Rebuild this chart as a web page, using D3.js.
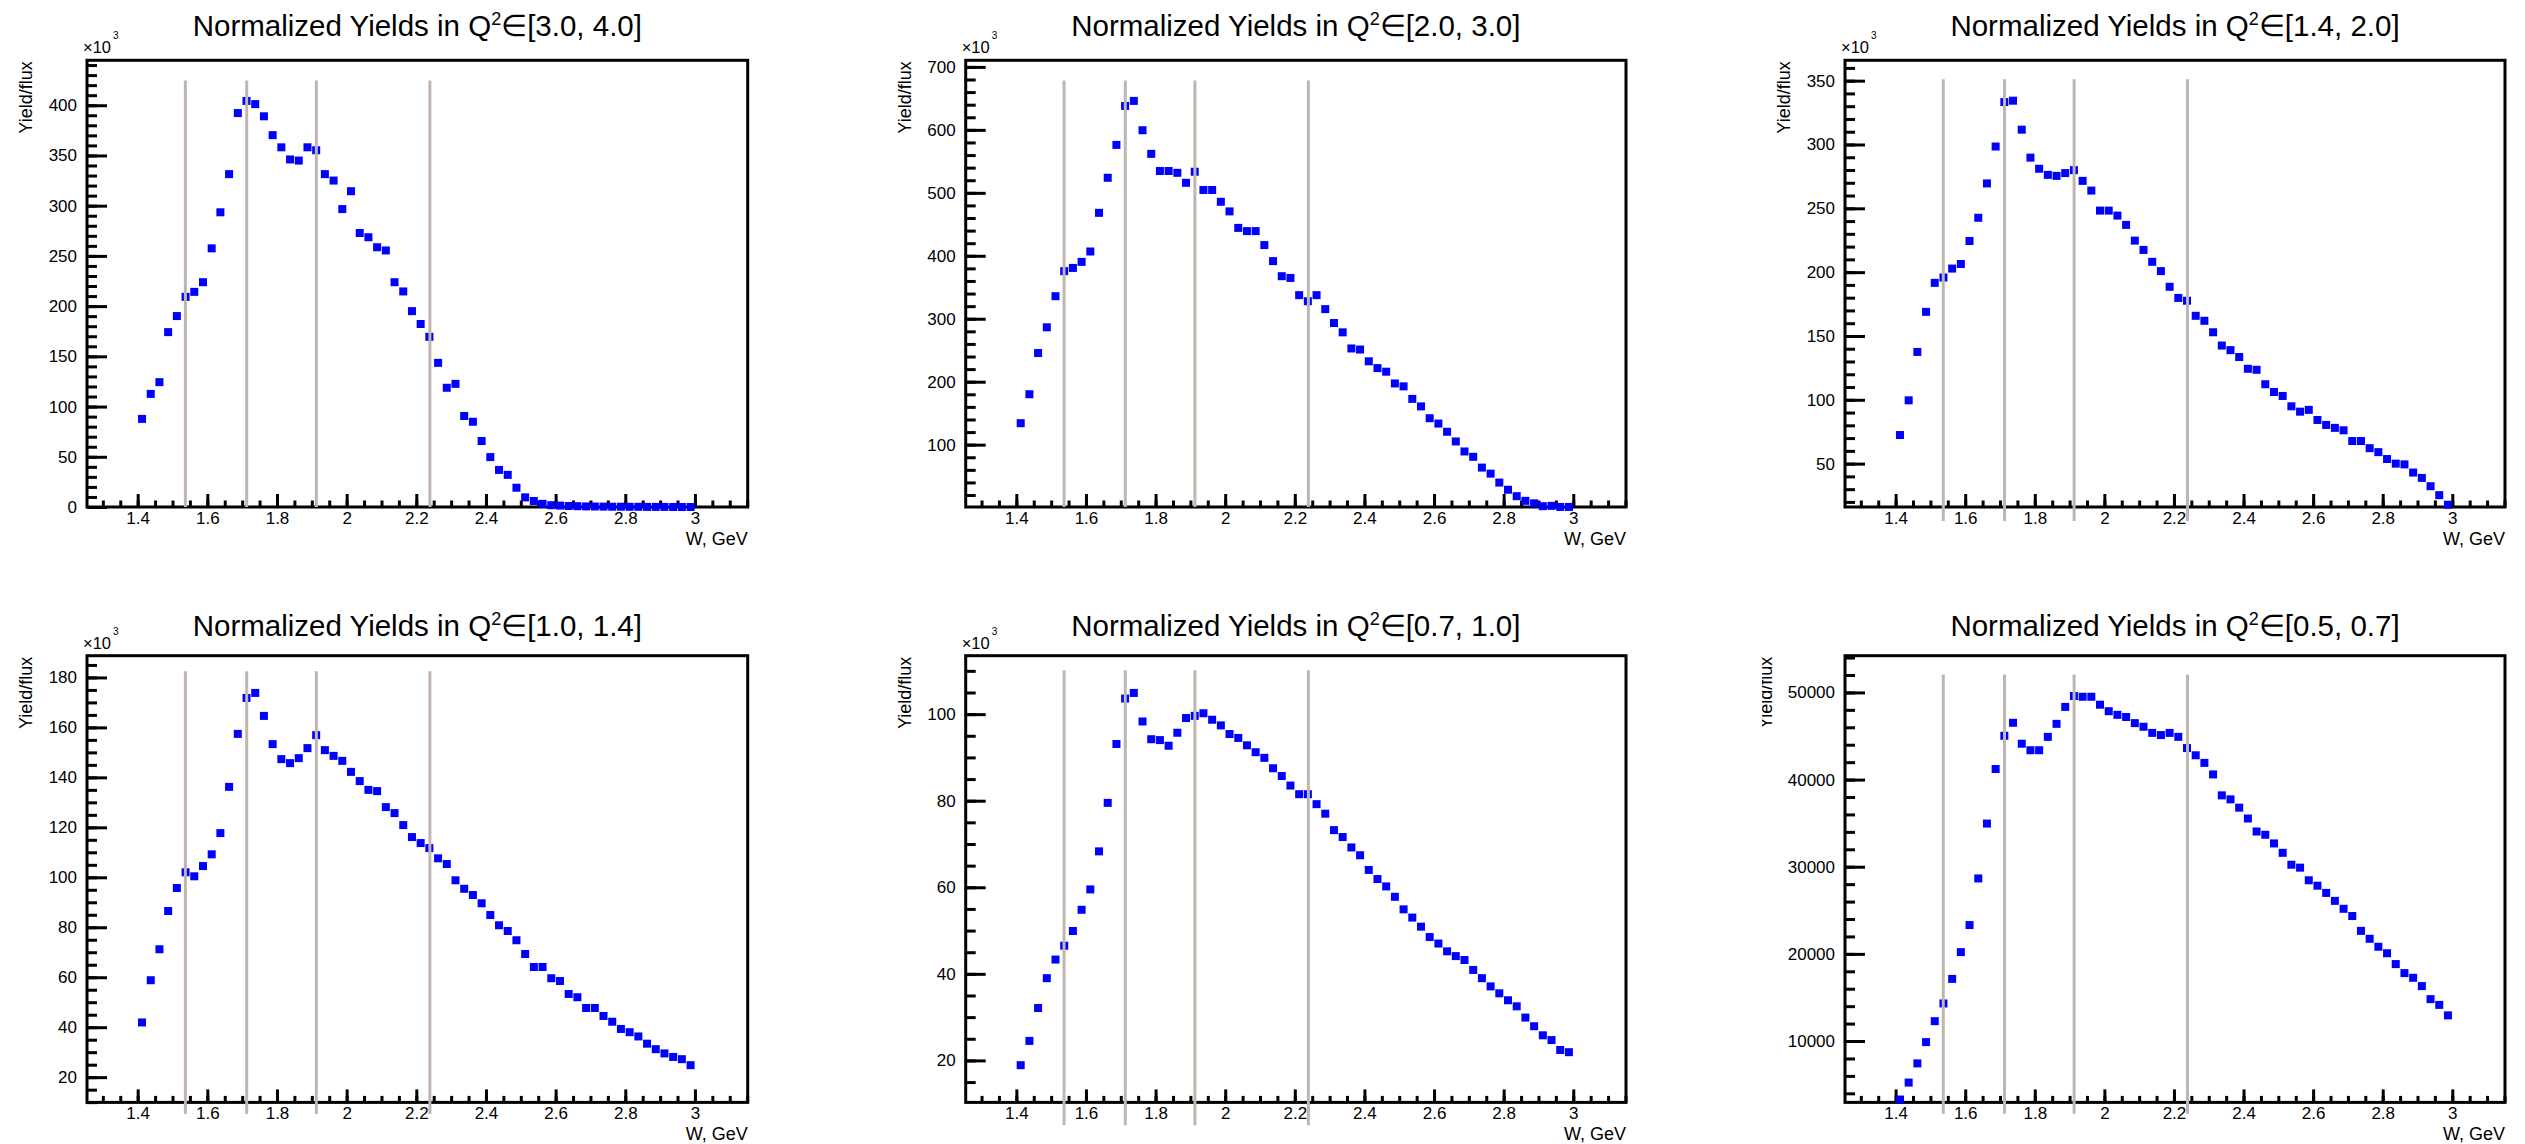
<!DOCTYPE html>
<html><head><meta charset="utf-8">
<script src="https://cdn.jsdelivr.net/npm/d3@7"></script>
<style>
body{margin:0;background:#fff}
svg{display:block}
</style>
</head><body>
<svg id="c" width="2525" height="1144"></svg>
<script>
// ---------------- DATA ----------------
// W bin centres (GeV)
const W_GEV = [1.4125,1.4375,1.4625,1.4875,1.5125,1.5375,1.5625,1.5875,1.6125,1.6375,
  1.6625,1.6875,1.7125,1.7375,1.7625,1.7875,1.8125,1.8375,1.8625,1.8875,
  1.9125,1.9375,1.9625,1.9875,2.0125,2.0375,2.0625,2.0875,2.1125,2.1375,
  2.1625,2.1875,2.2125,2.2375,2.2625,2.2875,2.3125,2.3375,2.3625,2.3875,
  2.4125,2.4375,2.4625,2.4875,2.5125,2.5375,2.5625,2.5875,2.6125,2.6375,
  2.6625,2.6875,2.7125,2.7375,2.7625,2.7875,2.8125,2.8375,2.8625,2.8875,
  2.9125,2.9375,2.9625,2.9875];

// Q2 bin labels (title ranges)
const Q2_RANGES = ["[3.0, 4.0]","[2.0, 3.0]","[1.4, 2.0]","[1.0, 1.4]","[0.7, 1.0]","[0.5, 0.7]"];

// Yield/flux, in axis units (x10^3 for the first five, plain for the last)
const yieldQ2_30_40 = [87.7,112.6,124.3,174.1,190.1,209.2,214.2,223.8,257.5,293.4,
  331.4,392.2,404.3,401.1,389.0,370.2,358.1,346.0,344.9,358.1,
  355.2,331.4,325.0,296.6,314.4,272.8,268.6,258.6,255.4,223.8,
  214.6,195.0,182.2,169.4,143.5,118.7,122.6,90.6,84.9,65.7,
  49.7,36.9,32.0,19.2,9.6,6.0,3.2,1.8,1.4,1.0,
  0.8,0.6,0.5,0.4,0.3,0.3,0.2,0.2,0.1,0.1,
  0.1,0,0,0];
const yieldQ2_20_30 = [134.1,180.1,245.5,286.4,335.8,375.6,380.7,390.3,406.8,468.2,
  523.9,576.1,638.0,646.0,599.4,561.9,534.7,534.7,531.8,515.9,
  533.5,504.5,504.5,485.8,470.5,444.3,439.2,439.2,417.0,391.5,
  367.6,364.8,337.5,327.8,337.5,315.3,293.2,278.4,252.8,251.1,
  232.4,221.6,215.9,197.2,192.6,172.7,160.8,142.0,133.5,120.5,
  105.1,89.2,80.7,63.6,54.0,39.8,28.4,18.2,10.8,6.8,
  2.3,2.8,1.1,1.1];
const yieldQ2_14_20 = [72.4,99.6,137.5,168.9,191.6,195.8,202.8,206.4,224.4,242.6,
  269.5,298.4,333.2,334.3,311.6,289.7,281.0,276.2,275.4,277.6,
  279.9,271.5,263.9,248.2,248.2,244.3,237.0,224.7,217.4,208.1,
  200.8,188.5,179.8,177.6,165.8,161.9,152.9,142.5,138.9,133.5,
  124.3,123.5,112.2,106.1,103.0,94.9,90.7,92.1,84.2,80.3,
  78.0,76.1,67.7,67.7,62.1,59.0,53.6,50.0,49.4,43.0,
  38.8,32.3,25.3,17.8];
const yieldQ2_10_14 = [41.9,58.8,71.2,86.5,95.7,102.0,100.4,104.5,109.2,117.7,
  136.2,157.4,171.8,173.8,164.6,153.3,147.3,145.7,147.7,151.7,
  156.9,150.9,148.6,146.6,142.2,138.5,135.0,134.5,128.1,125.7,
  120.9,116.1,113.7,111.7,107.6,105.3,98.8,95.4,92.9,89.6,
  84.9,80.8,78.5,74.8,69.3,64.1,64.1,59.6,58.5,53.3,
  52.0,47.7,47.7,44.5,42.2,39.3,38.0,36.3,33.4,31.2,
  29.5,28.1,27.2,24.8];
const yieldQ2_07_10 = [18.9,24.5,32.1,39.0,43.3,46.5,49.9,54.8,59.5,68.3,
  79.5,93.1,103.6,104.9,98.3,94.2,94.0,92.7,95.7,99.1,
  99.6,100.2,98.7,97.4,95.4,94.5,92.8,91.2,89.9,87.5,
  85.7,83.5,81.5,81.5,79.2,77.0,73.2,71.6,69.2,67.4,
  64.0,61.9,60.2,57.8,54.9,53.0,50.9,48.5,47.0,45.2,
  44.1,43.2,40.9,39.0,37.1,35.5,33.9,32.5,29.9,27.9,
  25.8,24.7,22.4,21.9];
const yieldQ2_05_07 = [3285,5233,7430,9876,12280,14311,17130,20197,23306,28653,
  34953,41212,45026,46518,44114,43368,43368,44902,46394,48342,
  49585,49503,49503,48591,47845,47430,47181,46477,46062,45358,
  45109,45358,44902,43617,42788,41917,40591,38187,37731,36777,
  35534,34041,33668,32674,31596,30228,29896,28446,27824,26995,
  26083,25171,24342,22642,21731,20819,20073,18829,17793,17254,
  16301,14808,14145,12943];

// resonance-region marker lines (W, GeV)
const W_LINES = [1.537, 1.713, 1.913, 2.239];
// lower end of the marker lines, axis units per panel
const LINE_LOW = [0, 1, 5, 5.3, 5, 1650];

// axis tick settings (axis units)
const Y_MAJOR = [50, 100, 50, 20, 20, 10000];
const Y_MINOR = [10, 20, 10, 5, 5, 2000];
const Y_EXP   = [3, 3, 3, 3, 3, 0];
const X_MAJOR = 0.2, X_MINOR = 0.05;
const X_DOMAIN = [1.2545, 3.1515];

const SERIES = [yieldQ2_30_40, yieldQ2_20_30, yieldQ2_14_20, yieldQ2_10_14, yieldQ2_07_10, yieldQ2_05_07];

// ---------------- LAYOUT ----------------
const COLS = [[87, 747.7], [965.7, 1626], [1845, 2505]];
const ROWS = [[60.3, 507], [655.7, 1102.4]];
const TITLE_BASE = [36, 636];
const YTITLE_GAP = [55, 55, 55, 55, 55, 73];
const FONT = "'Liberation Sans', Arial, Helvetica, sans-serif";
const BLUE = "#0000ff", LINE_COL = "#bfb7af";

const svg = d3.select("#c");
svg.append("rect").attr("width", 2525).attr("height", 1144).attr("fill", "#fff");

const defs = svg.append("defs");
defs.append("clipPath").attr("id", "clip6").attr("clipPathUnits", "userSpaceOnUse").append("rect")
  .attr("x", 1762).attr("y", 572).attr("width", 800).attr("height", 600);

const fmt = d3.format("~g");

SERIES.forEach((vals, k) => {
  const [x0, x1] = COLS[k % 3];
  const [y0, y1] = ROWS[Math.floor(k / 3)];
  const mn = d3.min(vals), mx = d3.max(vals), dy = 0.1 * (mx - mn);
  let lo = mn - dy; if (lo < 0 && mn >= 0) lo = 0.9 * mn;
  const hi = mx + dy;

  const x = d3.scaleLinear().domain(X_DOMAIN).range([x0, x1]);
  const y = d3.scaleLinear().domain([lo, hi]).range([y1, y0]);
  const g = svg.append("g");

  // frame
  g.append("rect").attr("x", x0).attr("y", y0).attr("width", x1 - x0).attr("height", y1 - y0)
    .attr("fill", "none").attr("stroke", "#000").attr("stroke-width", 3);

  // ticks
  const yStep = Y_MAJOR[k], yMinor = Y_MINOR[k];
  const yMaj = d3.range(Math.ceil(lo / yStep - 1e-9), Math.floor(hi / yStep + 1e-9) + 1).map(i => i * yStep);
  const yMin = d3.range(Math.ceil(lo / yMinor - 1e-9), Math.floor(hi / yMinor + 1e-9) + 1).map(i => i * yMinor);
  const xMaj = d3.range(Math.ceil(X_DOMAIN[0] / X_MAJOR - 1e-9), Math.floor(X_DOMAIN[1] / X_MAJOR + 1e-9) + 1).map(i => i * X_MAJOR);
  const xMin = d3.range(Math.ceil(X_DOMAIN[0] / X_MINOR - 1e-9), Math.floor(X_DOMAIN[1] / X_MINOR + 1e-9) + 1).map(i => i * X_MINOR);

  const styleAxis = sel => {
    sel.select(".domain").remove();
    sel.attr("font-family", FONT).attr("font-size", 17);
    sel.selectAll("line").attr("stroke", "#000").attr("stroke-width", 3);
    sel.selectAll("text").attr("fill", "#000");
  };

  g.append("g").attr("transform", `translate(${x0},0)`)
    .call(d3.axisLeft(y).tickValues(yMin).tickSize(-10).tickFormat("")).call(styleAxis);
  g.append("g").attr("transform", `translate(${x0},0)`)
    .call(d3.axisLeft(y).tickValues(yMaj).tickSize(-20).tickPadding(10).tickFormat(fmt)).call(styleAxis);
  g.append("g").attr("transform", `translate(0,${y1})`)
    .call(d3.axisBottom(x).tickValues(xMin).tickSize(-6.5).tickFormat("")).call(styleAxis);
  g.append("g").attr("transform", `translate(0,${y1})`)
    .call(d3.axisBottom(x).tickValues(xMaj).tickSize(-13).tickPadding(5).tickFormat(fmt)).call(styleAxis);

  // points
  g.append("g").selectAll("rect").data(vals).join("rect")
    .attr("x", (d, i) => x(W_GEV[i]) - 4).attr("y", d => y(d) - 4)
    .attr("width", 8).attr("height", 8).attr("fill", BLUE);

  // marker lines
  g.append("g").selectAll("line").data(W_LINES).join("line")
    .attr("x1", d => x(d)).attr("x2", d => x(d))
    .attr("y1", y(LINE_LOW[k])).attr("y2", y(1.05 * mx))
    .attr("stroke", LINE_COL).attr("stroke-width", 3);

  // title
  const t = g.append("text").attr("x", (x0 + x1) / 2).attr("y", TITLE_BASE[Math.floor(k / 3)])
    .attr("text-anchor", "middle").attr("font-family", FONT).attr("font-size", 29.5).attr("fill", "#000");
  t.append("tspan").text("Normalized Yields in Q");
  t.append("tspan").attr("font-size", 18).attr("dy", -11).text("2");
  t.append("tspan").attr("font-size", 29.5).attr("dy", 11).text("\u2208" + Q2_RANGES[k]);

  // y title (wrapped so a clip can be applied in page coordinates)
  const ytg = g.append("g");
  if (k === 5) ytg.attr("clip-path", "url(#clip6)");
  ytg.append("text")
    .attr("transform", `translate(${x0 - YTITLE_GAP[k]},${y0 + 1}) rotate(-90)`)
    .attr("text-anchor", "end").attr("font-family", FONT).attr("font-size", 18).attr("fill", "#000")
    .text("Yield/flux");

  // x title
  g.append("text").attr("x", x1).attr("y", y1 + 38).attr("text-anchor", "end")
    .attr("font-family", FONT).attr("font-size", 18).attr("fill", "#000").text("W, GeV");

  // exponent
  if (Y_EXP[k] > 0) {
    const e = g.append("text").attr("x", x0 - 4).attr("y", y0 - 7)
      .attr("font-family", FONT).attr("font-size", 16.5).attr("fill", "#000");
    e.append("tspan").text("\u00d710");
    e.append("tspan").attr("font-size", 10).attr("dy", -14).attr("dx", 2).text(String(Y_EXP[k]));
  }
});
</script>
</body></html>
